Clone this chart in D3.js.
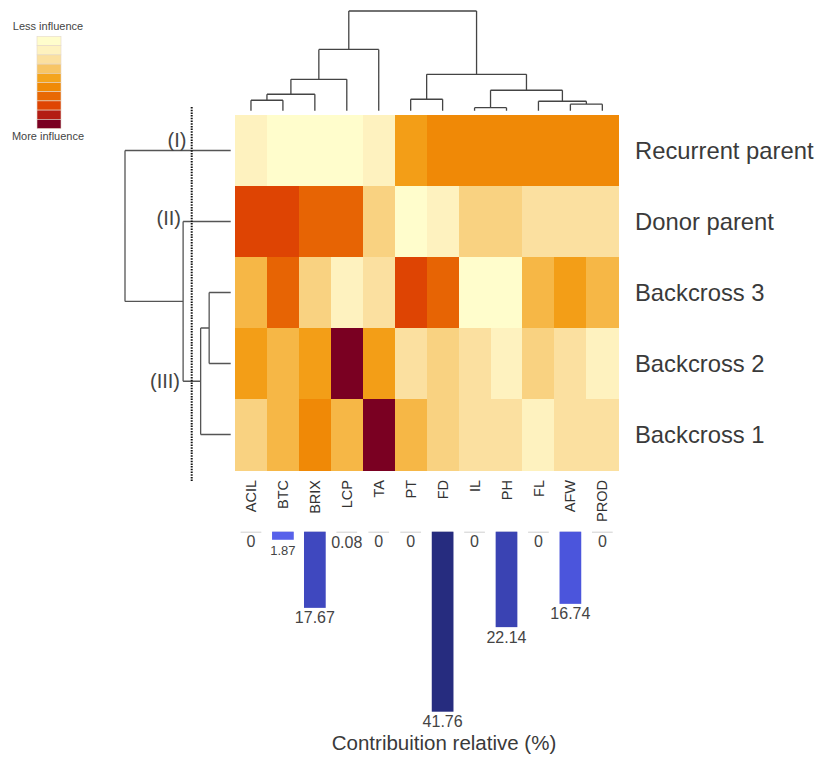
<!DOCTYPE html>
<html>
<head>
<meta charset="utf-8">
<script src="https://cdn.jsdelivr.net/npm/d3@7"></script>
<style>
  body { margin: 0; background: #fff; }
  svg { display: block; font-family: "Liberation Sans", Arial, sans-serif; }
</style>
</head>
<body>
<svg id="chart" width="819" height="758"></svg>
<script>
// ---------------------------------------------------------------
//    DATA
// ---------------------------------------------------------------
const rows = ["Recurrent parent", "Donor parent", "Backcross 3", "Backcross 2", "Backcross 1"];
const traits = ["ACIL", "BTC", "BRIX", "LCP", "TA", "PT", "FD", "IL", "PH", "FL", "AFW", "PROD"];

// 0 = less influence, 1 = more influence
const influence = [
    [0.11, 0, 0, 0, 0.11, 0.47, 0.56, 0.56, 0.56, 0.56, 0.56, 0.56],
    [0.78, 0.78, 0.68, 0.68, 0.28, 0, 0.11, 0.28, 0.28, 0.22, 0.22, 0.22],
    [0.38, 0.68, 0.28, 0.11, 0.22, 0.78, 0.68, 0, 0, 0.38, 0.47, 0.38],
    [0.47, 0.38, 0.47, 1, 0.47, 0.22, 0.28, 0.22, 0.11, 0.28, 0.22, 0.11],
    [0.28, 0.38, 0.56, 0.38, 1, 0.38, 0.28, 0.22, 0.22, 0.11, 0.22, 0.22]
];

// Contribution relative (%) per trait
const contribution = [0, 1.87, 17.67, 0.08, 0, 0, 41.76, 0, 22.14, 0, 16.74, 0];

// Column dendrogram (merge heights)
const traitTree = { h: 100, children: [
    { h: 61.5, children: [
        { h: 31.5, children: [
            { h: 16.5, children: [
                { h: 10.5, children: [{ name: "ACIL" }, { name: "BTC" }] },
                { name: "BRIX" }] },
            { name: "LCP" }] },
        { name: "TA" }] },
    { h: 36.5, children: [
        { h: 11.5, children: [{ name: "PT" }, { name: "FD" }] },
        { h: 20.5, children: [
            { h: 3, children: [{ name: "IL" }, { name: "PH" }] },
            { h: 9.5, children: [
                { name: "FL" },
                { h: 6.5, children: [{ name: "AFW" }, { name: "PROD" }] }] }] }] }
] };

// Row dendrogram (merge heights)
const rowTree = { h: 105.5, children: [
    { name: "Recurrent parent" },
    { h: 47.5, children: [
        { name: "Donor parent" },
        { h: 30, children: [
            { h: 21.5, children: [{ name: "Backcross 3" }, { name: "Backcross 2" }] },
            { name: "Backcross 1" }] }] }
] };

const groupLabels = ["(I)", "(II)", "(III)"];
const groupAnchors = ["Recurrent parent", "Donor parent", "Backcross 3"];
const legendLabels = ["Less influence", "More influence"];
const axisTitle = "Contribuition relative (%)";

const palette = ["#FFFDCC", "#FEF2BF", "#FBE09F", "#F7C565", "#F4A41C",
                 "#F08A06", "#E86804", "#DF4503", "#B31C14", "#7A0022"];

// ---------------------------------------------------------------
//    SCALES
// ---------------------------------------------------------------
const svg = d3.select("#chart");

const x = d3.scaleBand().domain(traits).range([235, 618.3]);
const y = d3.scaleBand().domain(rows).range([115, 470]);

const color = d3.scaleLinear()
    .domain(d3.range(palette.length).map(i => i / (palette.length - 1)))
    .range(palette)
    .clamp(true);

const barY = d3.scaleLinear().domain([0, 41.76]).range([531.7, 711.7]);
const barColor = d3.scaleLinear()
    .domain([0, 17, 17.5, 42])
    .range(["#5863ec", "#4b55dc", "#3f48bf", "#262c7e"]);

const topH = d3.scaleLinear().domain([0, 100]).range([110.7, 11]);
const leftH = d3.scaleLinear().domain([0, 105.5]).range([230.7, 125]);

// ---------------------------------------------------------------
//    HEATMAP
// ---------------------------------------------------------------
const cells = [];
rows.forEach((r, i) => traits.forEach((t, j) => cells.push({ r, t, v: influence[i][j] })));

svg.append("g")
    .attr("shape-rendering", "crispEdges")
    .selectAll("rect")
    .data(cells)
    .join("rect")
    .attr("x", d => x(d.t))
    .attr("y", d => y(d.r))
    .attr("width", x.bandwidth() + 0.6)
    .attr("height", y.bandwidth() + 0.6)
    .attr("fill", d => color(d.v));

svg.append("g").selectAll("text")
    .data(rows)
    .join("text")
    .attr("x", 635)
    .attr("y", d => y(d) + y.bandwidth() / 2)
    .attr("dy", "0.35em")
    .attr("font-size", 23.8)
    .attr("fill", "#3a3a3a")
    .text(d => d);

svg.append("g").selectAll("text")
    .data(traits)
    .join("text")
    .attr("transform", d => `translate(${x(d) + x.bandwidth() / 2},480) rotate(-90)`)
    .attr("text-anchor", "end")
    .attr("dy", "0.35em")
    .attr("font-size", 14.5)
    .attr("fill", "#333")
    .text(d => d);

// ---------------------------------------------------------------
//    DENDROGRAMS
// ---------------------------------------------------------------
function layoutTree(tree, leafPos) {
    const root = d3.hierarchy(tree);
    root.eachAfter(n => {
        if (n.children) {
            n.p = (n.children[0].p + n.children[n.children.length - 1].p) / 2;
            n.hv = n.data.h;
        } else {
            n.p = leafPos(n.data.name);
            n.hv = 0;
        }
    });
    return root;
}

function treePath(root, horizontal, hs) {
    let path = "";
    root.each(n => {
        if (!n.children) return;
        const a = n.children[0], b = n.children[n.children.length - 1];
        n.children.forEach(c => {
            if (horizontal) path += `M${hs(c.hv)},${c.p}H${hs(n.hv)}`;
            else path += `M${c.p},${hs(c.hv)}V${hs(n.hv)}`;
        });
        if (horizontal) path += `M${hs(n.hv)},${a.p}V${b.p}`;
        else path += `M${a.p},${hs(n.hv)}H${b.p}`;
    });
    return path;
}

const colRoot = layoutTree(traitTree, name => x(name) + x.bandwidth() / 2);
svg.append("path")
    .attr("d", treePath(colRoot, false, topH))
    .attr("fill", "none")
    .attr("stroke", "#444")
    .attr("stroke-width", 1.3);

const rowRoot = layoutTree(rowTree, name => y(name) + y.bandwidth() / 2);
svg.append("path")
    .attr("d", treePath(rowRoot, true, leftH))
    .attr("fill", "none")
    .attr("stroke", "#555")
    .attr("stroke-width", 1.3);

// cut line
svg.append("line")
    .attr("x1", 191.7).attr("x2", 191.7)
    .attr("y1", 107).attr("y2", 482)
    .attr("stroke", "#111")
    .attr("stroke-width", 2)
    .attr("stroke-dasharray", "1.5,1.2");

// group labels (I), (II), (III)
const groupOffsets = [-10.5, -3.7, 0];
const nodeByAnchor = {};
rowRoot.each(n => { if (!n.children) nodeByAnchor[n.data.name] = n; });
const groupY = groupAnchors.map((a, i) => {
    const n = nodeByAnchor[a];
    // (III) sits at the backcross cluster node
    return (i === 2 ? n.parent.parent.p : n.p) + groupOffsets[i];
});
svg.append("g").selectAll("text")
    .data(groupLabels)
    .join("text")
    .attr("x", (d, i) => [186.5, 181, 180][i])
    .attr("y", (d, i) => groupY[i])
    .attr("dy", "0.35em")
    .attr("text-anchor", "end")
    .attr("font-size", 20)
    .attr("fill", "#444")
    .text(d => d);

// ---------------------------------------------------------------
//    LEGEND
// ---------------------------------------------------------------
const legendScale = d3.scaleBand().domain(d3.range(palette.length)).range([36.5, 128.5]);
svg.append("g").selectAll("rect")
    .data(d3.range(palette.length))
    .join("rect")
    .attr("x", 37)
    .attr("y", d => legendScale(d))
    .attr("width", 24)
    .attr("height", legendScale.bandwidth())
    .attr("fill", d => color(d / (palette.length - 1)))
    .attr("stroke", "#e4d8c8")
    .attr("stroke-width", 0.6);

svg.append("g").selectAll("text")
    .data(legendLabels)
    .join("text")
    .attr("x", 48)
    .attr("y", (d, i) => i === 0 ? 29.5 : 140)
    .attr("text-anchor", "middle")
    .attr("font-size", 11)
    .attr("fill", "#444")
    .text(d => d);

// ---------------------------------------------------------------
//    CONTRIBUTION BARS
// ---------------------------------------------------------------
const bars = traits.map((t, i) => ({ t, v: contribution[i] }));
const barW = x.bandwidth() * 0.68;

const bg = svg.append("g");
bg.selectAll("line")
    .data(bars)
    .join("line")
    .attr("x1", d => x(d.t) + x.bandwidth() / 2 - barW / 2 + 0.5)
    .attr("x2", d => x(d.t) + x.bandwidth() / 2 + barW / 2 - 0.5)
    .attr("y1", barY(0) + 0.5)
    .attr("y2", barY(0) + 0.5)
    .attr("stroke", "#cfcfcf")
    .attr("stroke-width", 1);

bg.selectAll("rect")
    .data(bars.filter(d => d.v >= 0.5))
    .join("rect")
    .attr("x", d => x(d.t) + x.bandwidth() / 2 - barW / 2)
    .attr("y", barY(0))
    .attr("width", barW)
    .attr("height", d => barY(d.v) - barY(0))
    .attr("fill", d => barColor(d.v));

bg.selectAll("text")
    .data(bars)
    .join("text")
    .attr("x", d => x(d.t) + x.bandwidth() / 2)
    .attr("y", d => barY(d.v) + (d.v > 0.5 && d.v < 5 ? 15 : 15.5))
    .attr("text-anchor", "middle")
    .attr("font-size", d => d.v > 0.5 && d.v < 5 ? 13 : 16)
    .attr("fill", "#444")
    .text(d => d.v);

svg.append("text")
    .attr("x", 444)
    .attr("y", 749.5)
    .attr("text-anchor", "middle")
    .attr("font-size", 20.5)
    .attr("fill", "#3a3a3a")
    .text(axisTitle);
</script>
</body>
</html>
